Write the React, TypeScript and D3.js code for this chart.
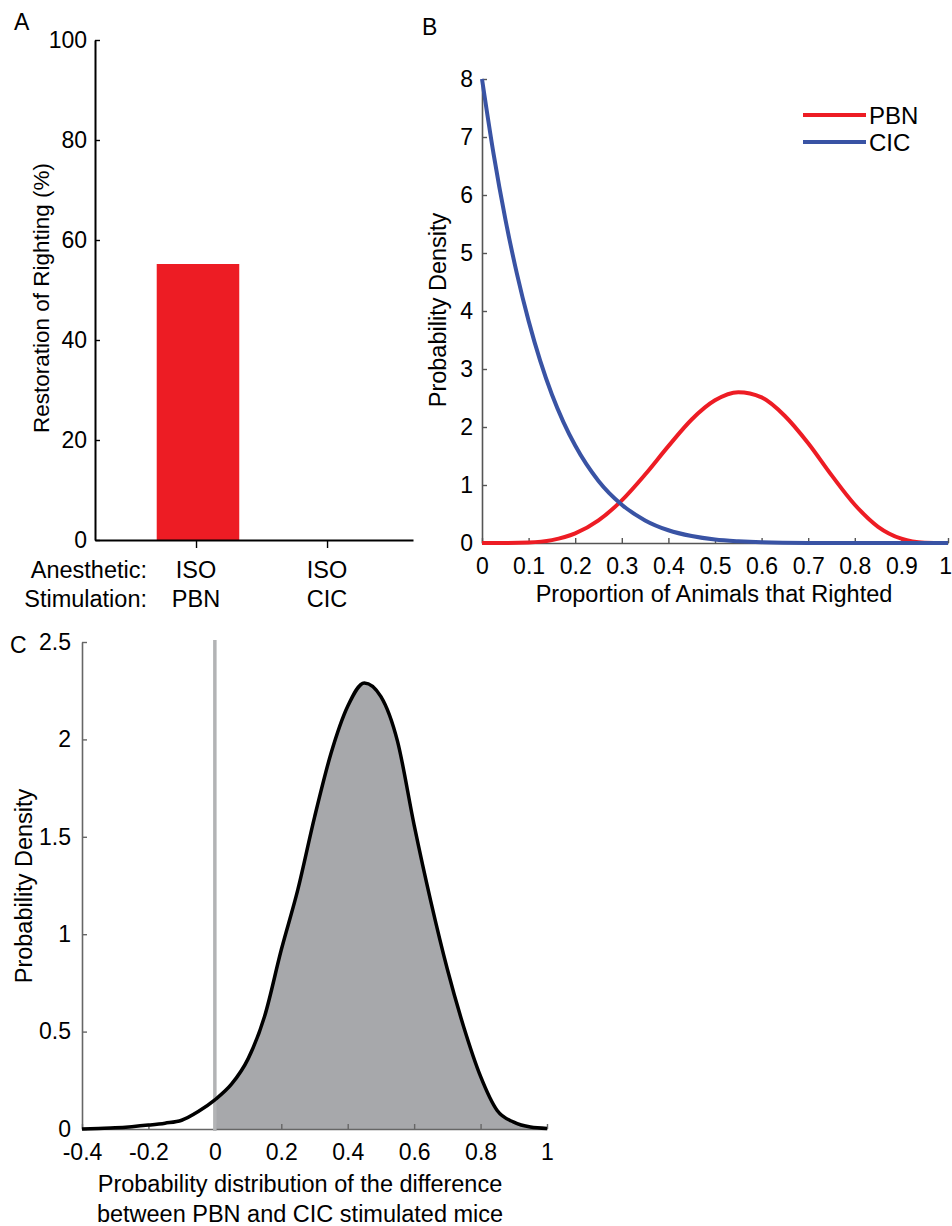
import React, { useRef, useEffect } from "react";
import { select, scaleLinear, axisBottom, axisLeft, line, area, curveMonotoneX } from "d3";

const FONT = "'Liberation Sans', Arial, Helvetica, sans-serif";

// panel A: restoration of righting
const stimulations = ["PBN", "CIC"];
const anesthetics = ["ISO", "ISO"];
const righting = [55.2, 0];
const rightingTicks = [0, 20, 40, 60, 80, 100];

// panel B: posterior densities of the proportion that righted
const pbnX = [0, 0.05, 0.1, 0.15, 0.2, 0.25, 0.3, 0.35, 0.4, 0.45, 0.5, 0.55, 0.6, 0.65, 0.7, 0.75, 0.8, 0.85, 0.9, 0.95, 1];
const pbnY = [0, 0.0003, 0.008, 0.05, 0.165, 0.39, 0.735, 1.18, 1.67, 2.13, 2.46, 2.6, 2.51, 2.19, 1.72, 1.17, 0.66, 0.28, 0.074, 0.006, 0];
const cicX = [0, 0.025, 0.05, 0.075, 0.1, 0.125, 0.15, 0.175, 0.2, 0.25, 0.3, 0.35, 0.4, 0.45, 0.5, 0.55, 0.6, 0.7, 0.8, 0.9, 1];
const cicY = [8, 6.7, 5.59, 4.64, 3.83, 3.14, 2.56, 2.08, 1.68, 1.07, 0.66, 0.39, 0.22, 0.12, 0.06, 0.03, 0.013, 0.002, 0, 0, 0];
const propTicks = [0, 0.1, 0.2, 0.3, 0.4, 0.5, 0.6, 0.7, 0.8, 0.9, 1];
const densTicksB = [0, 1, 2, 3, 4, 5, 6, 7, 8];
const legendNames = ["PBN", "CIC"];
const legendColors = ["#ed1c24", "#3953a4"];

// panel C: distribution of the difference
const diffX = [-0.4, -0.35, -0.3, -0.25, -0.2, -0.15, -0.1, -0.05, 0, 0.05, 0.1, 0.15, 0.2, 0.25, 0.3, 0.35, 0.4, 0.45, 0.5, 0.55, 0.6, 0.65, 0.7, 0.75, 0.8, 0.85, 0.9, 0.95, 1];
const diffY = [0, 0.003, 0.006, 0.012, 0.02, 0.03, 0.045, 0.09, 0.15, 0.23, 0.36, 0.58, 0.92, 1.23, 1.6, 1.93, 2.17, 2.29, 2.22, 1.99, 1.56, 1.17, 0.82, 0.52, 0.27, 0.095, 0.035, 0.01, 0.003];
const diffTicks = [-0.4, -0.2, 0, 0.2, 0.4, 0.6, 0.8, 1];
const densTicksC = [0, 0.5, 1, 1.5, 2, 2.5];

const fmt = (d) => String(+(+d).toFixed(2));

const styleAxis = (g, color, fontSize) => {
  g.attr("font-size", fontSize).attr("font-family", FONT);
  g.select(".domain").attr("stroke", color).attr("stroke-width", 1.6);
  g.selectAll(".tick line").attr("stroke", color).attr("stroke-width", 1.4);
  g.selectAll(".tick text")
    .attr("fill", "#000")
    .attr("font-size", fontSize)
    .style("font-family", FONT)
    .style("font-size", `${fontSize}px`);
};

const App = () => {
  const svgRef = useRef();

  useEffect(() => {
    const svg = select(svgRef.current);
    svg.selectAll("*").remove();

    const label = (x, y, text, size, anchor = "start", rotate = false) =>
      svg
        .append("text")
        .attr("transform", `translate(${x},${y})${rotate ? " rotate(-90)" : ""}`)
        .attr("text-anchor", anchor)
        .style("font-family", FONT)
        .style("font-size", `${size}px`)
        .text(text);

    // ---------- panel A ----------
    const xA = scaleLinear().domain([0.229, 2.656]).range([95, 413]);
    const yA = scaleLinear().domain([0, 100]).range([540, 40]);

    svg
      .selectAll(".barA")
      .data(righting)
      .join("rect")
      .attr("class", "barA")
      .attr("x", (d, i) => xA(i + 1 - 0.3))
      .attr("width", xA(0.63) - xA(0))
      .attr("y", (d) => yA(d))
      .attr("height", (d) => yA(0) - yA(d))
      .attr("fill", "#ed1c24");

    const gAy = svg
      .append("g")
      .attr("transform", `translate(${xA.range()[0]},0)`)
      .call(axisLeft(yA).tickValues(rightingTicks).tickSize(-5).tickSizeOuter(0).tickPadding(8));
    styleAxis(gAy, "#000", 23);
    gAy.select(".domain").attr("stroke-width", 2);

    const gAx = svg
      .append("g")
      .attr("transform", `translate(0,${yA(0)})`)
      .call(axisBottom(xA).tickValues([1, 2]).tickSize(8).tickSizeOuter(0).tickFormat(() => ""));
    styleAxis(gAx, "#000", 23);
    gAx.select(".domain").attr("stroke-width", 2);

    label(147, 578, "Anesthetic:", 23.5, "end");
    label(147, 607, "Stimulation:", 23.5, "end");
    anesthetics.forEach((a, i) => label(xA(i + 1), 578, a, 23.5, "middle"));
    stimulations.forEach((s, i) => label(xA(i + 1), 607, s, 23.5, "middle"));
    label(48.5, 298, "Restoration of Righting (%)", 22.5, "middle", true);
    label(14, 30, "A", 23);

    // ---------- panel B ----------
    const xB = scaleLinear().domain([0, 1]).range([482, 948]);
    const yB = scaleLinear().domain([0, 8]).range([543, 79]);

    const gBx = svg
      .append("g")
      .attr("transform", `translate(0,${yB(0)})`)
      .call(axisBottom(xB).tickValues(propTicks).tickSize(-5).tickSizeOuter(0).tickPadding(15).tickFormat(fmt));
    styleAxis(gBx, "#555", 23);
    // last label sits at the page edge
    gBx.selectAll(".tick text").filter((d) => d === 1).attr("text-anchor", "end").attr("x", 3.5);
    const gBy = svg
      .append("g")
      .attr("transform", `translate(${xB(0)},0)`)
      .call(axisLeft(yB).tickValues(densTicksB).tickSize(-5).tickSizeOuter(0).tickPadding(9).tickFormat(fmt));
    styleAxis(gBy, "#555", 23);

    const lineB = line()
      .x((d) => xB(d[0]))
      .y((d) => yB(d[1]))
      .curve(curveMonotoneX);

    svg
      .append("path")
      .attr("d", lineB(pbnX.map((x, i) => [x, pbnY[i]])))
      .attr("fill", "none")
      .attr("stroke", legendColors[0])
      .attr("stroke-width", 4);
    svg
      .append("path")
      .attr("d", lineB(cicX.map((x, i) => [x, cicY[i]])))
      .attr("fill", "none")
      .attr("stroke", legendColors[1])
      .attr("stroke-width", 4);

    legendNames.forEach((name, i) => {
      const y = 115 + i * 27;
      svg
        .append("line")
        .attr("x1", 803)
        .attr("x2", 866)
        .attr("y1", y)
        .attr("y2", y)
        .attr("stroke", legendColors[i])
        .attr("stroke-width", 4);
      label(869, y + 8.5, name, 24);
    });

    label(714, 602, "Proportion of Animals that Righted", 23.5, "middle");
    label(446, 310, "Probability Density", 23.5, "middle", true);
    label(422, 35, "B", 23);

    // ---------- panel C ----------
    const xC = scaleLinear().domain([-0.4, 1]).range([82, 547]);
    const yC = scaleLinear().domain([0, 2.5]).range([1129, 642]);
    const diffData = diffX.map((x, i) => [x, diffY[i]]);

    svg
      .append("clipPath")
      .attr("id", "posClip")
      .append("rect")
      .attr("x", xC(0))
      .attr("y", yC(2.5))
      .attr("width", xC(1) - xC(0))
      .attr("height", yC(0) - yC(2.5));

    svg
      .append("path")
      .attr(
        "d",
        area()
          .x((d) => xC(d[0]))
          .y0(yC(0))
          .y1((d) => yC(d[1]))
          .curve(curveMonotoneX)(diffData)
      )
      .attr("fill", "#a7a8ab")
      .attr("clip-path", "url(#posClip)");

    const gCx = svg
      .append("g")
      .attr("transform", `translate(0,${yC(0)})`)
      .call(axisBottom(xC).tickValues(diffTicks).tickSize(-5).tickSizeOuter(0).tickPadding(15).tickFormat(fmt));
    styleAxis(gCx, "#666", 23);
    const gCy = svg
      .append("g")
      .attr("transform", `translate(${xC(-0.4)},0)`)
      .call(axisLeft(yC).tickValues(densTicksC).tickSize(-5).tickSizeOuter(0).tickPadding(11).tickFormat(fmt));
    styleAxis(gCy, "#666", 23);

    svg
      .append("line")
      .attr("x1", xC(0))
      .attr("x2", xC(0))
      .attr("y1", yC(2.51))
      .attr("y2", yC(0) + 2)
      .attr("stroke", "#b2b3b5")
      .attr("stroke-width", 3.5);

    svg
      .append("path")
      .attr(
        "d",
        line()
          .x((d) => xC(d[0]))
          .y((d) => yC(d[1]))
          .curve(curveMonotoneX)(diffData)
      )
      .attr("fill", "none")
      .attr("stroke", "#000")
      .attr("stroke-width", 3.5);

    label(300, 1192, "Probability distribution of the difference", 23.5, "middle");
    label(300, 1222, "between PBN and CIC stimulated mice", 23.5, "middle");
    label(31.5, 886, "Probability Density", 23.5, "middle", true);
    label(10, 653, "C", 23);
  }, []);

  return (
    <div style={{ position: "absolute", left: 0, top: 0 }}>
      <svg ref={svgRef} width={952} height={1226} style={{ display: "block", background: "#fff" }} />
    </div>
  );
};

export default App;
